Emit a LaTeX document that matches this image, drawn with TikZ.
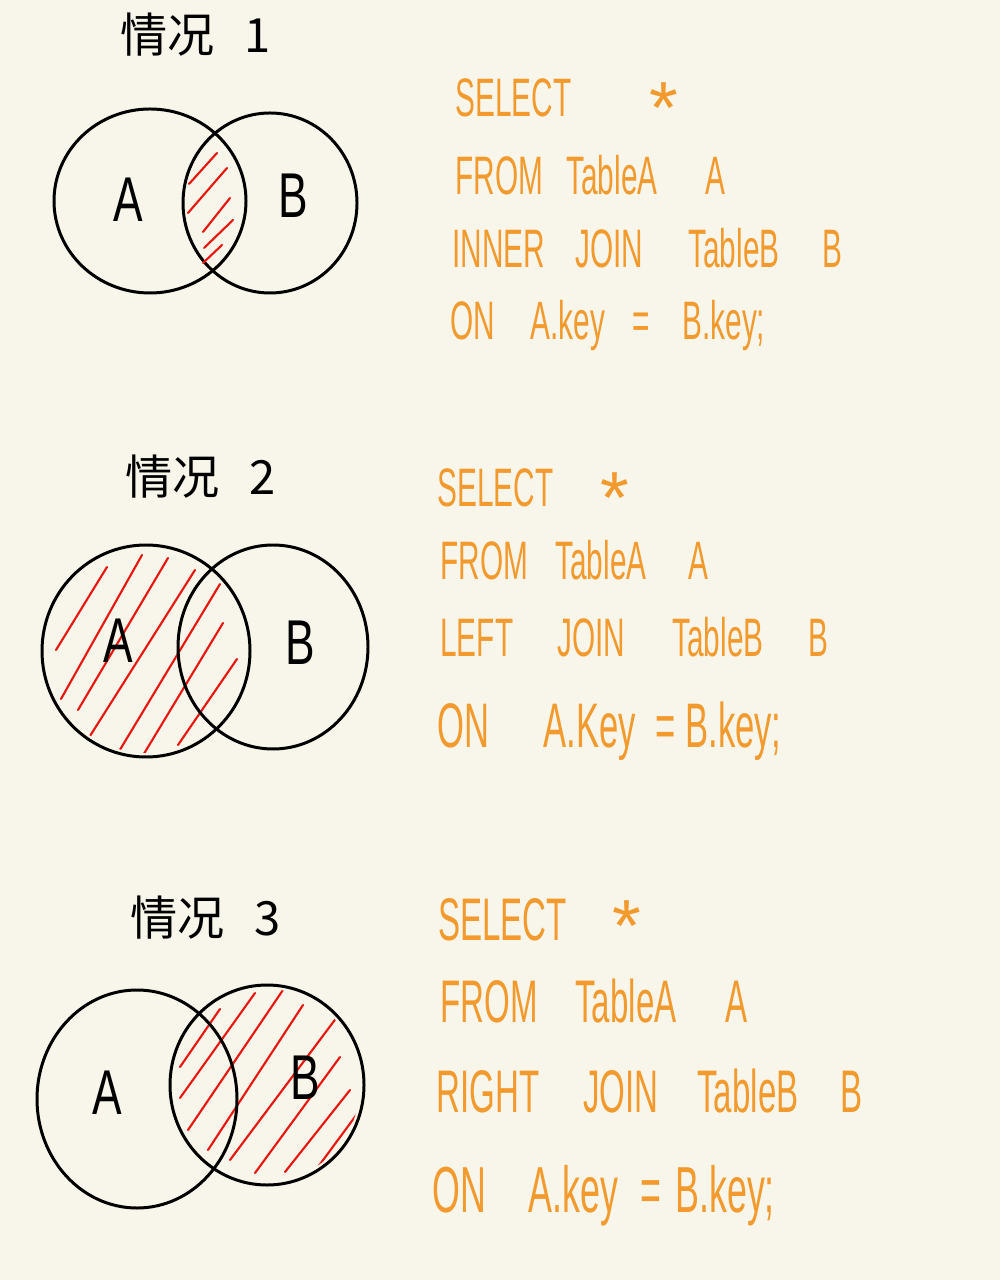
\documentclass[tikz,border=0pt]{standalone}
\usepackage{fontspec}
\setmainfont{Liberation Sans}
\newfontfamily\cjkfont{Noto Sans CJK SC}
\usetikzlibrary{positioning}
\definecolor{paper}{HTML}{F8F6EA}
\definecolor{sqlorange}{HTML}{F29A2E}
\definecolor{hatchred}{HTML}{E8160E}
\tikzset{
case title/.style = {font = \cjkfont\fontsize{13.4}{16}\selectfont, anchor = base west, inner sep = 0pt},
set name/.style = {font = \fontsize{18}{20}\selectfont, inner sep = 0pt, xscale = 0.7},
venn/.style = {draw = black, line width = 0.85pt},
hatch/.style = {draw = hatchred, line width = 0.6pt, line cap = round},
sql/.style = {text = sqlorange, anchor = base west, inner sep = 0pt, xscale = 0.55},
star/.style = {text = sqlorange, inner sep = 0pt, font = \fontsize{21}{24}\selectfont},
}

\begin{document}
\begin{tikzpicture}[x = 0.01cm, y = -0.01cm]
    \fill[paper] (0, 0) rectangle (1000, 1280);
    \useasboundingbox (0, 0) rectangle (1000, 1280);
    % case 1: inner join
    \node[case title] (t1) at (120, 53) {情况\hspace{8.5pt}1};
    \draw[venn] (150, 201) ellipse [x radius = 96, y radius = 92];
    \draw[venn] (270, 203) ellipse [x radius = 87, y radius = 90];
    \node[set name] (a1) at (128, 200) {A};
    \node[set name] (b1) at (293, 196) {B};
    \foreach \xa/\ya/\xb/\yb in {189/184/217/153, 188/213/227/168, 203/232/230/198, 204/248/233/220, 203/263/222/245}
        \draw[hatch] (\xa, \ya) -- (\xb, \yb);
    \node[sql, font = \fontsize{15.4}{18}\selectfont] (s1) at (455, 117) {SELECT};
    \node[star] (k1) at (664, 108) {*};
    \foreach \x/\w [count = \i] in {455/FROM, 566/TableA, 705/A}
        \node[sql, font = \fontsize{15.4}{18}\selectfont] (f1-\i) at (\x, 195) {\w};
    \foreach \x/\w [count = \i] in {452/INNER, 575/JOIN, 688/TableB, 822/B}
        \node[sql, font = \fontsize{15.4}{18}\selectfont] (j1-\i) at (\x, 268) {\w};
    \foreach \x/\w [count = \i] in {450/ON, 530/A.key, 632/=, 682/B.key;}
        \node[sql, font = \fontsize{15.4}{18}\selectfont] (o1-\i) at (\x, 340) {\w};
    % case 2: left join
    \node[case title] (t2) at (125, 495) {情况\hspace{8.5pt}2};
    \begin{scope}
        \clip (146, 651) ellipse [x radius = 100, y radius = 102];
        \foreach \xa/\ya/\xb/\yb in {56/650/107/567, 61/699/142/555, 78/710/168/558, 90/736/195/570, 118/753/220/584, 142/757/223/623, 178/745/237/659}
            \draw[hatch] (\xa, \ya) -- (\xb, \yb);
    \end{scope}
    \draw[venn] (146, 651) ellipse [x radius = 104, y radius = 106];
    \draw[venn] (273, 647) ellipse [x radius = 95, y radius = 102];
    \node[set name] (a2) at (118, 641) {A};
    \node[set name] (b2) at (300, 643) {B};
    \node[sql, font = \fontsize{15.4}{18}\selectfont] (s2) at (437, 507) {SELECT};
    \node[star] (k2) at (615, 498) {*};
    \foreach \x/\w [count = \i] in {440/FROM, 555/TableA, 688/A}
        \node[sql, font = \fontsize{15.4}{18}\selectfont] (f2-\i) at (\x, 580) {\w};
    \foreach \x/\w [count = \i] in {440/LEFT, 557/JOIN, 672/TableB, 808/B}
        \node[sql, font = \fontsize{15.4}{18}\selectfont] (j2-\i) at (\x, 657) {\w};
    \foreach \x/\w [count = \i] in {437/ON, 543/A.Key, 655/=, 685/B.key;}
        \node[sql, font = \fontsize{17.9}{20}\selectfont] (o2-\i) at (\x, 748) {\w};
    % case 3: right join
    \node[case title] (t3) at (130, 935) {情况\hspace{8.5pt}3};
    \begin{scope}
        \clip (267, 1085) ellipse [x radius = 93, y radius = 96];
        \foreach \xa/\ya/\xb/\yb in {180/1067/220/1009, 180/1098/255/993, 188/1130/285/987, 208/1150/303/1005, 230/1160/340/1013, 255/1173/340/1057, 285/1172/350/1090, 318/1167/360/1110}
            \draw[hatch] (\xa, \ya) -- (\xb, \yb);
    \end{scope}
    \draw[venn] (137, 1099) ellipse [x radius = 100, y radius = 109];
    \draw[venn] (267, 1085) ellipse [x radius = 97, y radius = 100];
    \node[set name] (a3) at (107, 1093) {A};
    \node[set name] (b3) at (305, 1078) {B};
    \node[sql, font = \fontsize{17.1}{20}\selectfont] (s3) at (438, 940) {SELECT};
    \node[star] (k3) at (627, 926) {*};
    \foreach \x/\w [count = \i] in {440/FROM, 575/TableA, 725/A}
        \node[sql, font = \fontsize{17.1}{20}\selectfont] (f3-\i) at (\x, 1022) {\w};
    \foreach \x/\w [count = \i] in {436/RIGHT, 583/JOIN, 697/TableB, 840/B}
        \node[sql, font = \fontsize{17.1}{20}\selectfont] (j3-\i) at (\x, 1112) {\w};
    \foreach \x/\w [count = \i] in {432/ON, 528/A.key, 640/=, 675/B.key;}
        \node[sql, font = \fontsize{18.5}{20}\selectfont] (o3-\i) at (\x, 1212) {\w};
\end{tikzpicture}
\end{document}
